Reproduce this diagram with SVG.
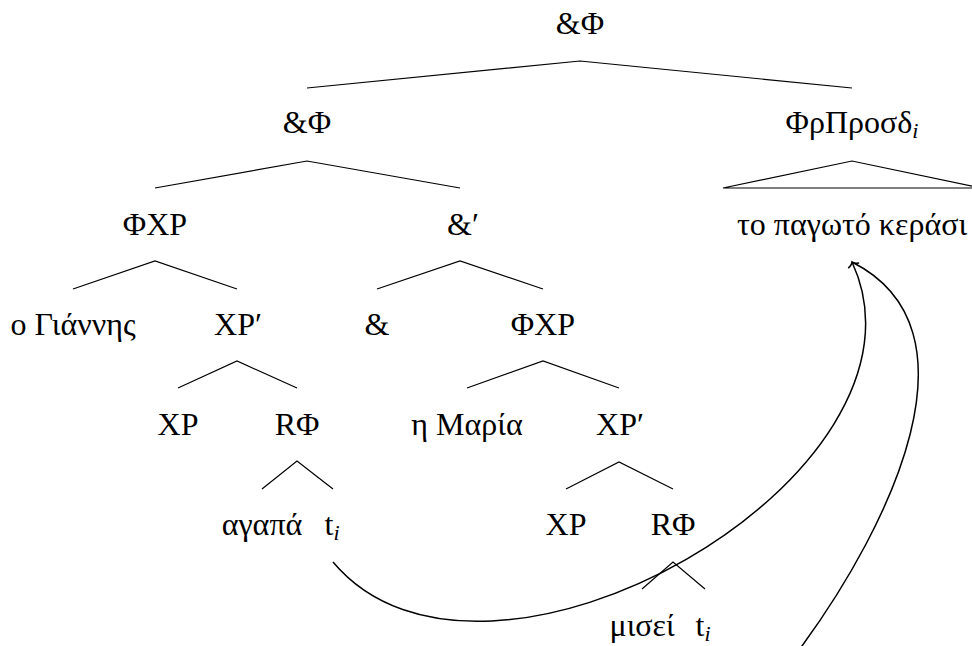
<svg xmlns="http://www.w3.org/2000/svg" width="972" height="646" viewBox="0 0 972 646">
<style>
  .edge { stroke: #000; stroke-width: 1.2; fill: none; }
  .move { stroke: #000; stroke-width: 1.5; fill: none; }
</style>
<defs>
  <marker id="tip" markerUnits="userSpaceOnUse" markerWidth="20" markerHeight="20" viewBox="-10 -10 20 20" refX="0" refY="0" orient="245">
    <path d="M -4 -6 C -3 -3 -1.2 -0.6 0 0 C -1.2 0.6 -3 3 -4 6" stroke="#000" stroke-width="1.5" fill="none"/>
  </marker>
</defs>
<rect width="972" height="646" fill="#fff"/>
<g id="connectors">
  <polyline class="edge" points="307,88 580,61 852,88"/>
  <polyline class="edge" points="155,188 307,161 460,188"/>
  <polygon class="edge" points="723,188 852,161 981,188"/>
  <polyline class="edge" points="73,289 155,261 237,289"/>
  <polyline class="edge" points="377,289 460,261 543,289"/>
  <polyline class="edge" points="178,388 237,361 297,388"/>
  <polyline class="edge" points="467,388 543,361 619,388"/>
  <polyline class="edge" points="262,489 297,461 333,489"/>
  <polyline class="edge" points="566,489 619,462 673,489"/>
  <polyline class="edge" points="642,589 673,562 705,589"/>
  <path class="move" d="M 333 562 C 484 742 951 475 852 262" marker-end="url(#tip)"/>
  <path class="move" d="M 708 650 C 715 690 772 687 802 646 C 890.5 524.5 985.5 329.5 852 262"/>
</g>
<g font-family="Liberation Serif" font-size="32" fill="#000" text-anchor="middle">
<g id="n-root"><text x="580" y="34">&amp;Φ</text></g>
<g id="n-andP"><text x="307" y="133">&amp;Φ</text></g>
<g id="n-prosd"><text x="852" y="133">ΦρΠροσδ<tspan font-size="22" font-style="italic" dy="5">i</tspan></text></g>
<g id="n-fxp1"><text x="155" y="235">ΦXP</text></g>
<g id="n-andbar"><text x="463" y="235">&amp;′</text></g>
<g id="n-kerasi"><text x="852" y="235">το παγωτό κεράσι</text></g>
<g id="n-giannis"><text x="73" y="335">ο Γιάννης</text></g>
<g id="n-xpbar1"><text x="238" y="335">XP′</text></g>
<g id="n-and"><text x="377" y="335">&amp;</text></g>
<g id="n-fxp2"><text x="543" y="335">ΦXP</text></g>
<g id="n-xp1"><text x="178" y="435">XP</text></g>
<g id="n-rf1"><text x="297" y="435">RΦ</text></g>
<g id="n-maria"><text x="467" y="435">η Μαρία</text></g>
<g id="n-xpbar2"><text x="620" y="435">XP′</text></g>
<g id="n-agapa"><text x="262" y="535">αγαπά</text></g>
<g id="n-t1"><text x="332" y="535">t<tspan font-size="22" font-style="italic" dy="5">i</tspan></text></g>
<g id="n-xp2"><text x="566" y="535">XP</text></g>
<g id="n-rf2"><text x="673" y="535">RΦ</text></g>
<g id="n-misei"><text x="642" y="636">μισεί</text></g>
<g id="n-t2"><text x="703" y="636">t<tspan font-size="22" font-style="italic" dy="5">i</tspan></text></g>
</g>
</svg>
